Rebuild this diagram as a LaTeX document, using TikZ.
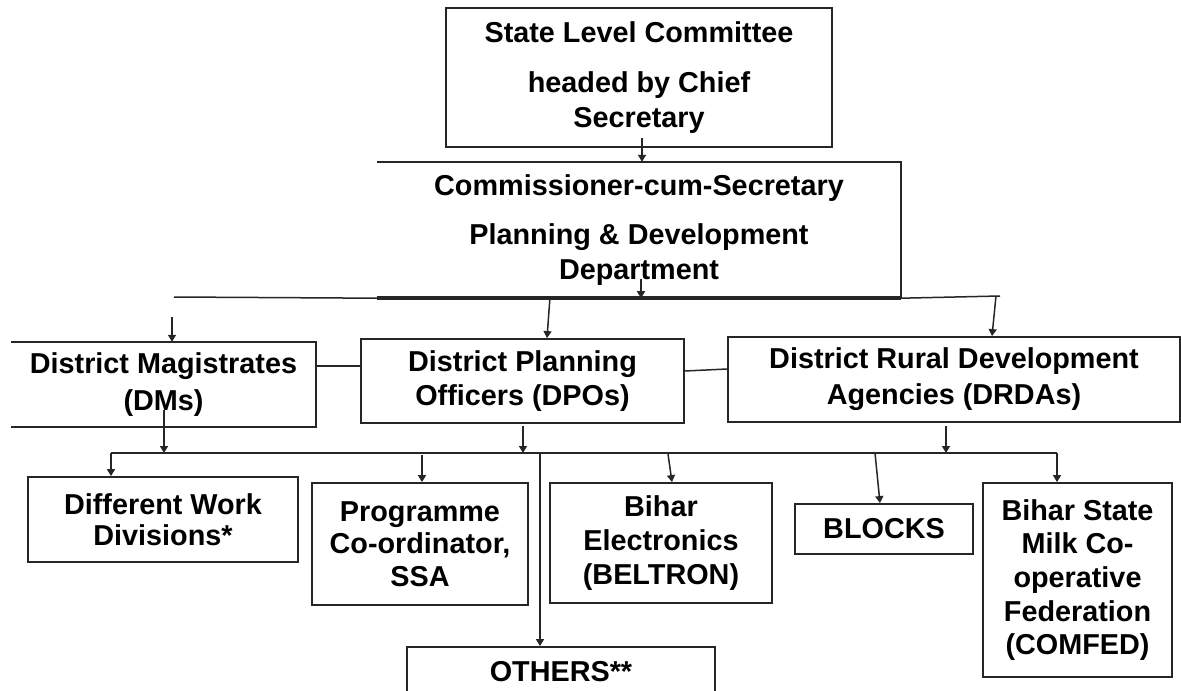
\documentclass[tikz,border=0pt]{standalone}
\usepackage{fontspec}
\setmainfont{Liberation Sans}
\usetikzlibrary{arrows.meta,calc}
\definecolor{ink}{HTML}{262626}
\begin{document}
\begin{tikzpicture}[x=1bp,y=-1bp,
  lbl/.style={font=\bfseries\fontsize{28.9}{#1}\selectfont, align=center, inner sep=0pt, text=black},
  lbl/.default=34,
  box/.style={draw=ink, line width=1.8bp},
  conn/.style={draw=ink, line width=1.5bp},
  arr/.style={conn, -{Triangle[length=7bp,width=8bp]}},
]
\useasboundingbox[fill=white] (0,0) rectangle (1181,691);

% top of the hierarchy
\node[box, lbl=35, minimum width=386bp, minimum height=139bp] (state) at (639,77.5)
  {State Level Committee\\[15bp] headed by Chief\\ Secretary};

\node[lbl=35, minimum width=524bp, minimum height=136bp] (comm) at (639,230)
  {Commissioner-cum-Secretary\\[15bp] Planning \& Development\\ Department};
\draw[box] (comm.north west) -- (comm.north east) -- (comm.south east);
\draw[ink, line width=3.5bp] (comm.south west) -- (comm.south east);

% distribution line under the department
\coordinate (busL) at (174,297);
\coordinate (busR) at (1000,296);
\draw[conn] (busL) -- (comm.south west);
\draw[conn] (comm.south east) -- (busR);

% district level
\node[lbl=38, minimum width=305bp, minimum height=85bp] (dm) at (163.5,384.5)
  {District Magistrates\\ (DMs)};
\draw[box] (dm.north west) -- (dm.north east) -- (dm.south east) -- (dm.south west);

\node[box, lbl=35, minimum width=323bp, minimum height=84bp] (dpo) at (522.5,381)
  {District Planning\\ Officers (DPOs)};
\node[box, lbl=36, minimum width=452bp, minimum height=85bp] (drda) at (954,379.5)
  {District Rural Development\\ Agencies (DRDAs)};

% implementing agencies
\node[box, lbl=31, minimum width=270bp, minimum height=85bp] (dwd) at (163,519.5)
  {Different Work\\ Divisions*};
\node[box, lbl=32.5, minimum width=216bp, minimum height=122bp] (prog) at (420,544)
  {Programme\\ Co-ordinator,\\ SSA};
\node[box, lbl=34, minimum width=222bp, minimum height=120bp] (bel) at (661,543)
  {Bihar\\ Electronics\\ (BELTRON)};
\node[box, lbl, minimum width=178bp, minimum height=50bp] (blocks) at (884,529)
  {BLOCKS};
\node[box, lbl=33.75, minimum width=189bp, minimum height=194bp] (comfed) at (1077.5,580)
  {Bihar State\\ Milk Co-\\ operative\\ Federation\\ (COMFED)};
\node[box, lbl, minimum width=308bp, minimum height=50bp] (others) at (561,672)
  {OTHERS**};

% connectors from the top
\draw[arr] ($(state.south)+(3,-10)$) -- ($(comm.north)+(3,0)$);
\draw[arr] ($(comm.south)+(2,-19)$) -- ($(comm.south)+(2,0)$);

\coordinate (dmIn) at (172,317);
\draw[arr] (dmIn) -- (dmIn |- dm.north);
\coordinate (dpoIn) at (550,297);
\draw[arr] (dpoIn) -- ($(dpo.north)+(24.5,0)$);
\coordinate (drdaIn) at (996,296);
\draw[arr] (drdaIn) -- ($(drda.north)+(38,0)$);

% links between district offices
\draw[conn] ($(dpo.west)+(0,-15)$) -- ($(dm.east)+(0,-18.5)$);
\draw[conn] ($(dpo.east)+(0,-10)$) -- ($(drda.west)+(0,-10.5)$);

% lower distribution line
\coordinate (lowL) at (111,453);
\coordinate (lowR) at (1057,453);
\draw[conn] (lowL) -- (lowR);

\draw[arr] ($(dm.south)+(0.5,-17)$) -- ($(dm.south |- lowL)+(0.5,0)$);
\draw[arr] ($(dpo.south)+(0.5,2)$) -- ($(dpo.south |- lowL)+(0.5,0)$);
\draw[arr] ($(drda.south)+(-8,3)$) -- ($(drda.south |- lowL)+(-8,0)$);

\draw[arr] (lowL) -- (lowL |- dwd.north);
\draw[arr] ($(prog.north |- lowL)+(2,2)$) -- ($(prog.north)+(2,0)$);
\draw[arr] ($(others.north |- lowL)+(-21,0)$) -- ($(others.north)+(-21,0)$);
\draw[arr] ($(bel.north |- lowL)+(7,1)$) -- ($(bel.north)+(11,0)$);
\draw[arr] ($(blocks.north |- lowL)+(-9,0)$) -- ($(blocks.north)+(-4,0)$);
\draw[arr] (lowR) -- (lowR |- comfed.north);
\end{tikzpicture}
\end{document}
